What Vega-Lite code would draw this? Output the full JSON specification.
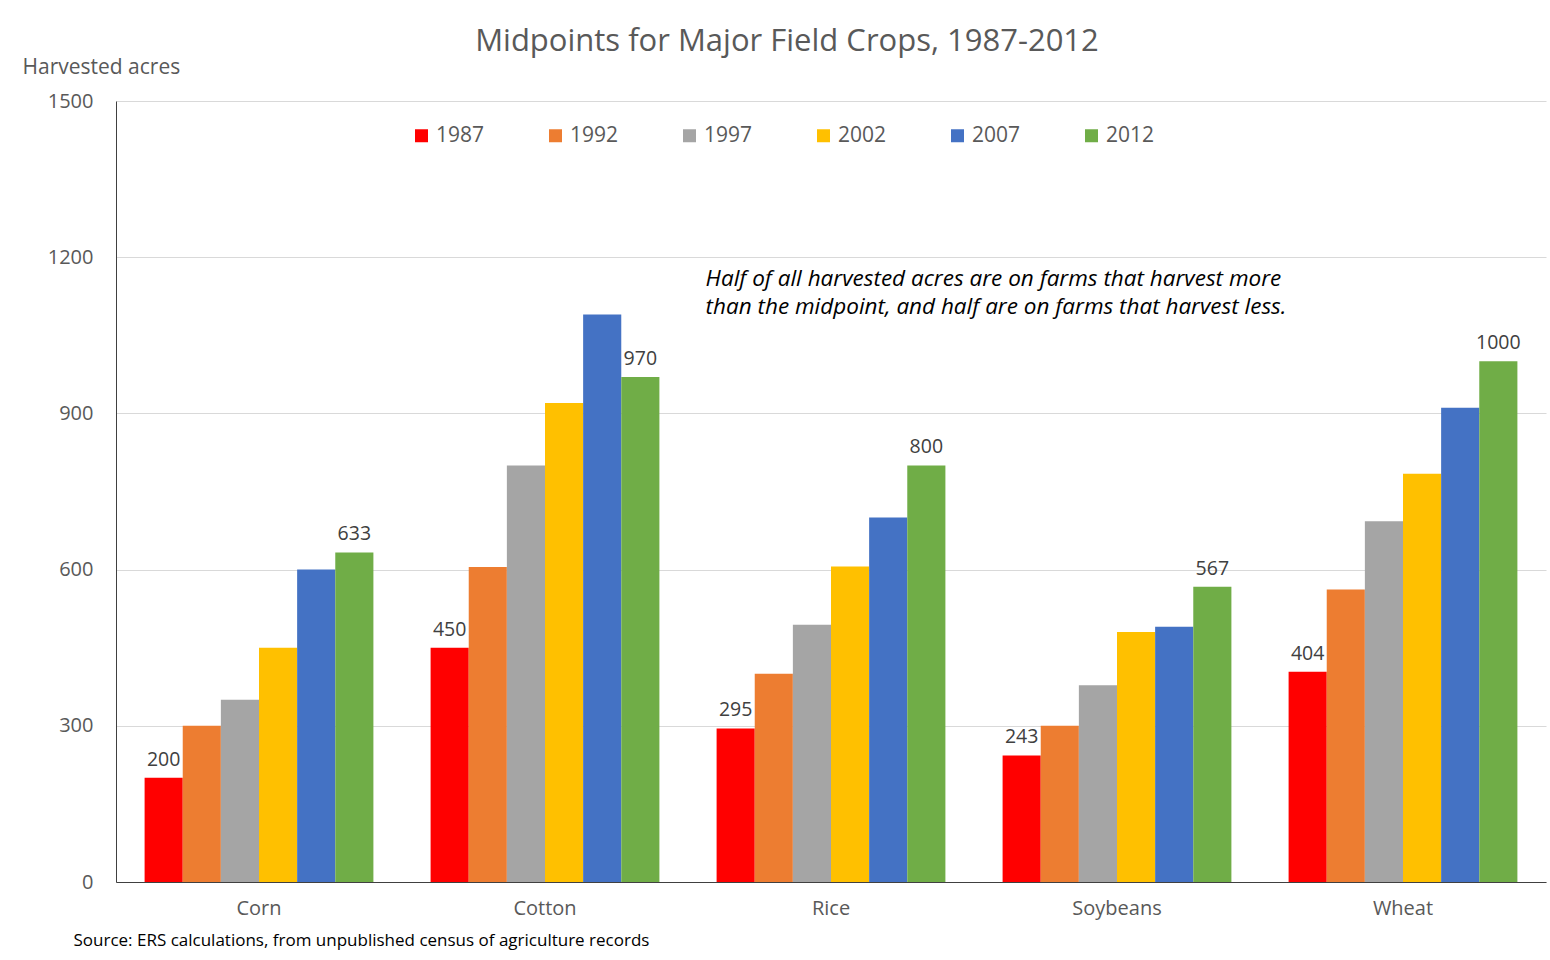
{
  "$schema": "https://vega.github.io/schema/vega-lite/v6.json",
  "width": 1430,
  "height": 781,
  "autosize": {"type": "none"},
  "padding": {"left": 116, "top": 101, "right": 4, "bottom": 78},
  "background": "white",
  "config": {
    "font": "Open Sans",
    "view": {"stroke": null}
  },
  "title": {
    "text": "Midpoints for Major Field Crops, 1987-2012",
    "fontSize": 31,
    "fontWeight": "normal",
    "color": "#595959",
    "anchor": "middle",
    "dx": -44,
    "dy": 4,
    "offset": 2
  },
  "datasets": {
    "midpoints": [
      {"crop": "Corn", "year": "1987", "acres": 200},
      {"crop": "Corn", "year": "1992", "acres": 300},
      {"crop": "Corn", "year": "1997", "acres": 350},
      {"crop": "Corn", "year": "2002", "acres": 450},
      {"crop": "Corn", "year": "2007", "acres": 600},
      {"crop": "Corn", "year": "2012", "acres": 633},
      {"crop": "Cotton", "year": "1987", "acres": 450},
      {"crop": "Cotton", "year": "1992", "acres": 605},
      {"crop": "Cotton", "year": "1997", "acres": 800},
      {"crop": "Cotton", "year": "2002", "acres": 920},
      {"crop": "Cotton", "year": "2007", "acres": 1090},
      {"crop": "Cotton", "year": "2012", "acres": 970},
      {"crop": "Rice", "year": "1987", "acres": 295},
      {"crop": "Rice", "year": "1992", "acres": 400},
      {"crop": "Rice", "year": "1997", "acres": 494},
      {"crop": "Rice", "year": "2002", "acres": 606},
      {"crop": "Rice", "year": "2007", "acres": 700},
      {"crop": "Rice", "year": "2012", "acres": 800},
      {"crop": "Soybeans", "year": "1987", "acres": 243},
      {"crop": "Soybeans", "year": "1992", "acres": 300},
      {"crop": "Soybeans", "year": "1997", "acres": 378},
      {"crop": "Soybeans", "year": "2002", "acres": 480},
      {"crop": "Soybeans", "year": "2007", "acres": 490},
      {"crop": "Soybeans", "year": "2012", "acres": 567},
      {"crop": "Wheat", "year": "1987", "acres": 404},
      {"crop": "Wheat", "year": "1992", "acres": 562},
      {"crop": "Wheat", "year": "1997", "acres": 693},
      {"crop": "Wheat", "year": "2002", "acres": 784},
      {"crop": "Wheat", "year": "2007", "acres": 911},
      {"crop": "Wheat", "year": "2012", "acres": 1000}
    ],
    "note": [
      {
        "crop": "Rice",
        "acres": 1180,
        "text": [
          "Half of all harvested acres are on farms that harvest more",
          "than the midpoint, and half are on farms that harvest less."
        ]
      }
    ]
  },
  "layer": [
    {
      "data": {"name": "midpoints"},
      "mark": {"type": "bar"},
      "encoding": {
        "x": {
          "field": "crop",
          "type": "nominal",
          "sort": null,
          "scale": {"paddingInner": 0.2, "paddingOuter": 0.1},
          "axis": {
            "labelAngle": 0,
            "labelFontSize": 20,
            "labelColor": "#595959",
            "labelPadding": 26,
            "labelBaseline": "middle",
            "ticks": false,
            "domainColor": "#404040",
            "domainWidth": 1,
            "title": "Source: ERS calculations, from unpublished census of agriculture records",
            "titleAnchor": "start",
            "titleAlign": "left",
            "titleBaseline": "middle",
            "titleX": -43,
            "titleY": 58,
            "titleFontSize": 17,
            "titleFontWeight": "normal",
            "titleColor": "#000000"
          }
        },
        "xOffset": {
          "field": "year",
          "type": "nominal",
          "sort": null,
          "scale": {"paddingInner": 0, "paddingOuter": 0}
        },
        "y": {
          "field": "acres",
          "type": "quantitative",
          "scale": {"domain": [0, 1500], "nice": false},
          "axis": {
            "values": [0, 300, 600, 900, 1200, 1500],
            "format": "d",
            "labelFontSize": 20,
            "labelColor": "#595959",
            "labelPadding": 23,
            "ticks": false,
            "domainColor": "#404040",
            "gridColor": "#d9d9d9",
            "title": "Harvested acres",
            "titleAngle": 0,
            "titleAlign": "left",
            "titleBaseline": "middle",
            "titleX": -94,
            "titleY": -34,
            "titleFontSize": 21,
            "titleFontWeight": "normal",
            "titleColor": "#595959"
          }
        },
        "color": {
          "field": "year",
          "type": "nominal",
          "sort": null,
          "scale": {
            "domain": ["1987", "1992", "1997", "2002", "2007", "2012"],
            "range": ["#ff0000", "#ed7d31", "#a5a5a5", "#ffc000", "#4472c4", "#70ad47"]
          },
          "legend": {
            "title": null,
            "orient": "none",
            "legendX": 295,
            "legendY": 24,
            "direction": "horizontal",
            "columns": 6,
            "gridAlign": "all",
            "columnPadding": 60,
            "symbolType": "square",
            "symbolSize": 169,
            "symbolStrokeWidth": 0,
            "labelFontSize": 21,
            "labelColor": "#595959",
            "labelOffset": 4
          }
        }
      }
    },
    {
      "data": {"name": "midpoints"},
      "transform": [{"filter": "datum.year == '1987' || datum.year == '2012'"}],
      "mark": {"type": "text", "baseline": "bottom", "dy": -8, "fontSize": 19.5, "color": "#404040"},
      "encoding": {
        "x": {"field": "crop", "type": "nominal", "sort": null},
        "xOffset": {"field": "year", "type": "nominal", "sort": null},
        "y": {"field": "acres", "type": "quantitative"},
        "text": {"field": "acres", "type": "quantitative"}
      }
    },
    {
      "data": {"name": "note"},
      "mark": {
        "type": "text",
        "align": "left",
        "baseline": "top",
        "dx": -11,
        "fontSize": 22.5,
        "fontStyle": "italic",
        "lineHeight": 28,
        "color": "#000000"
      },
      "encoding": {
        "x": {"field": "crop", "type": "nominal", "sort": null, "bandPosition": 0},
        "y": {"field": "acres", "type": "quantitative"},
        "text": {"field": "text"}
      }
    }
  ]
}
